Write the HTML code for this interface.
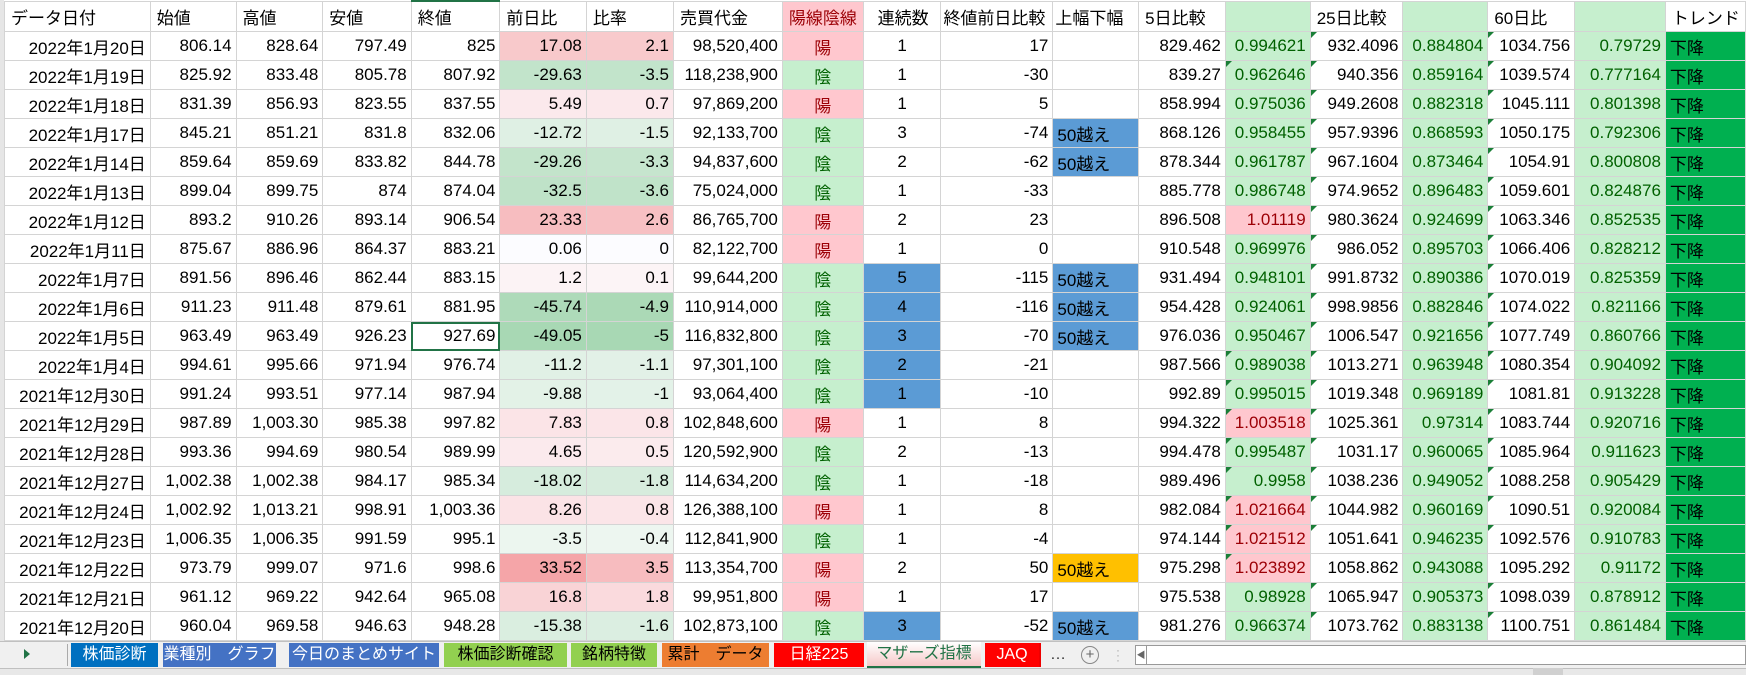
<!DOCTYPE html>
<html><head><meta charset="utf-8">
<style>
html,body{margin:0;padding:0;width:1746px;height:675px;overflow:hidden;background:#e8e8e8;font-family:"Liberation Sans","Noto Sans CJK JP",sans-serif;}
#gut{position:absolute;left:0;top:0;width:4px;height:641px;background:#e6e6e6;border-right:1px solid #c8c8c8;}
table{position:absolute;left:4px;top:0;border-collapse:collapse;table-layout:fixed;background:#fff;}
td{border:1px solid #d4d4d4;height:28px;padding:0 4px;font-size:17px;color:#000;white-space:nowrap;overflow:hidden;text-align:right;}
tr.h td{height:29px;text-align:left;padding-left:6px;}
td.c{text-align:center}
td.l{text-align:left}
.g{background:#c6efce;color:#006100}
.p{background:#ffc7ce;color:#9c0006}
.b{background:#5b9bd5}
.o{background:#ffc000}
.t{background:#00b050;text-align:left}
.tri{position:relative}
.tri:before{content:"";position:absolute;left:0;top:0;border-top:6px solid #1a7f37;border-right:6px solid transparent;}
.sel{outline:2px solid #217346;outline-offset:-2px}
#tabs{position:absolute;left:0;top:641px;width:1746px;height:26px;background:#f0f0f0;border-top:1px solid #c0c0c0;border-bottom:1px solid #c0c0c0;}
.tab{position:absolute;top:1px;height:24px;font-size:16px;line-height:24px;text-align:center;color:#fff;white-space:nowrap;}
</style></head><body>
<div id="gut"></div>
<table>
<colgroup>
<col style="width:146px"><col style="width:86px"><col style="width:87px"><col style="width:89px"><col style="width:89px"><col style="width:87px"><col style="width:88px"><col style="width:109px"><col style="width:81px"><col style="width:78px"><col style="width:112px"><col style="width:86px"><col style="width:87px"><col style="width:85px"><col style="width:93px"><col style="width:85px"><col style="width:87px"><col style="width:91px"><col style="width:80px">
</colgroup>
<tr class="h"><td>データ日付</td><td>始値</td><td>高値</td><td>安値</td><td style="border-top:2px solid #217346">終値</td><td>前日比</td><td>比率</td><td>売買代金</td><td class="p">陽線陰線</td><td style="text-align:center">連続数</td><td style="padding-left:2px">終値前日比較</td><td style="padding-left:2px">上幅下幅</td><td>5日比較</td><td class="g"></td><td>25日比較</td><td class="g"></td><td>60日比</td><td class="g"></td><td>トレンド</td></tr>
<tr><td>2022年1月20日</td><td>806.14</td><td>828.64</td><td>797.49</td><td>825</td><td style="background:#f8c9cb">17.08</td><td style="background:#f8cacc">2.1</td><td>98,520,400</td><td class="c p">陽</td><td class="c">1</td><td>17</td><td class="l"></td><td>829.462</td><td class="g">0.994621</td><td class="tri">932.4096</td><td class="g">0.884804</td><td class="tri">1034.756</td><td class="g">0.79729</td><td class="t">下降</td></tr>
<tr><td>2022年1月19日</td><td>825.92</td><td>833.48</td><td>805.78</td><td>807.92</td><td style="background:#c2e4cb">-29.63</td><td style="background:#c2e4cb">-3.5</td><td>118,238,900</td><td class="c g">陰</td><td class="c">1</td><td>-30</td><td class="l"></td><td>839.27</td><td class="g tri">0.962646</td><td class="tri">940.356</td><td class="g">0.859164</td><td class="tri">1039.574</td><td class="g">0.777164</td><td class="t">下降</td></tr>
<tr><td>2022年1月18日</td><td>831.39</td><td>856.93</td><td>823.55</td><td>837.55</td><td style="background:#fbe9ec">5.49</td><td style="background:#fbe8eb">0.7</td><td>97,869,200</td><td class="c p">陽</td><td class="c">1</td><td>5</td><td class="l"></td><td>858.994</td><td class="g">0.975036</td><td class="tri">949.2608</td><td class="g">0.882318</td><td class="tri">1045.111</td><td class="g">0.801398</td><td class="t">下降</td></tr>
<tr><td>2022年1月17日</td><td>845.21</td><td>851.21</td><td>831.8</td><td>832.06</td><td style="background:#dff0e4">-12.72</td><td style="background:#dff0e4">-1.5</td><td>92,133,700</td><td class="c g">陰</td><td class="c">3</td><td>-74</td><td class="l b">50越え</td><td>868.126</td><td class="g">0.958455</td><td class="tri">957.9396</td><td class="g">0.868593</td><td class="tri">1050.175</td><td class="g">0.792306</td><td class="t">下降</td></tr>
<tr><td>2022年1月14日</td><td>859.64</td><td>859.69</td><td>833.82</td><td>844.78</td><td style="background:#c3e4cb">-29.26</td><td style="background:#c6e5ce">-3.3</td><td>94,837,600</td><td class="c g">陰</td><td class="c">2</td><td>-62</td><td class="l b">50越え</td><td>878.344</td><td class="g">0.961787</td><td class="tri">967.1604</td><td class="g">0.873464</td><td class="tri">1054.91</td><td class="g">0.800808</td><td class="t">下降</td></tr>
<tr><td>2022年1月13日</td><td>899.04</td><td>899.75</td><td>874</td><td>874.04</td><td style="background:#bfe2c8">-32.5</td><td style="background:#c0e3c9">-3.6</td><td>75,024,000</td><td class="c g">陰</td><td class="c">1</td><td>-33</td><td class="l"></td><td>885.778</td><td class="g">0.986748</td><td class="tri">974.9652</td><td class="g">0.896483</td><td class="tri">1059.601</td><td class="g">0.824876</td><td class="t">下降</td></tr>
<tr><td>2022年1月12日</td><td>893.2</td><td>910.26</td><td>893.14</td><td>906.54</td><td style="background:#f7bdc0">23.33</td><td style="background:#f7c0c3">2.6</td><td>86,765,700</td><td class="c p">陽</td><td class="c">2</td><td>23</td><td class="l"></td><td>896.508</td><td class="p">1.01119</td><td class="tri">980.3624</td><td class="g">0.924699</td><td class="tri">1063.346</td><td class="g">0.852535</td><td class="t">下降</td></tr>
<tr><td>2022年1月11日</td><td>875.67</td><td>886.96</td><td>864.37</td><td>883.21</td><td style="background:#fcfcff">0.06</td><td style="background:#fcfcff">0</td><td>82,122,700</td><td class="c p">陽</td><td class="c">1</td><td>0</td><td class="l"></td><td>910.548</td><td class="g">0.969976</td><td class="tri">986.052</td><td class="g">0.895703</td><td class="tri">1066.406</td><td class="g">0.828212</td><td class="t">下降</td></tr>
<tr><td>2022年1月7日</td><td>891.56</td><td>896.46</td><td>862.44</td><td>883.15</td><td style="background:#fcf3f5">1.2</td><td style="background:#fcf4f6">0.1</td><td>99,644,200</td><td class="c g">陰</td><td class="c b">5</td><td>-115</td><td class="l b">50越え</td><td>931.494</td><td class="g">0.948101</td><td class="tri">991.8732</td><td class="g">0.890386</td><td class="tri">1070.019</td><td class="g">0.825359</td><td class="t">下降</td></tr>
<tr><td>2022年1月6日</td><td>911.23</td><td>911.48</td><td>879.61</td><td>881.95</td><td style="background:#aedab9">-45.74</td><td style="background:#abd9b6">-4.9</td><td>110,914,000</td><td class="c g">陰</td><td class="c b">4</td><td>-116</td><td class="l b">50越え</td><td>954.428</td><td class="g">0.924061</td><td class="tri">998.9856</td><td class="g">0.882846</td><td class="tri">1074.022</td><td class="g">0.821166</td><td class="t">下降</td></tr>
<tr><td>2022年1月5日</td><td>963.49</td><td>963.49</td><td>926.23</td><td class="sel">927.69</td><td style="background:#a8d8b4">-49.05</td><td style="background:#a8d8b4">-5</td><td>116,832,800</td><td class="c g">陰</td><td class="c b">3</td><td>-70</td><td class="l b">50越え</td><td>976.036</td><td class="g">0.950467</td><td class="tri">1006.547</td><td class="g">0.921656</td><td class="tri">1077.749</td><td class="g">0.860766</td><td class="t">下降</td></tr>
<tr><td>2022年1月4日</td><td>994.61</td><td>995.66</td><td>971.94</td><td>976.74</td><td style="background:#e1f1e6">-11.2</td><td style="background:#e2f1e7">-1.1</td><td>97,301,100</td><td class="c g">陰</td><td class="c b">2</td><td>-21</td><td class="l"></td><td>987.566</td><td class="g tri">0.989038</td><td class="tri">1013.271</td><td class="g">0.963948</td><td class="tri">1080.354</td><td class="g">0.904092</td><td class="t">下降</td></tr>
<tr><td>2021年12月30日</td><td>991.24</td><td>993.51</td><td>977.14</td><td>987.94</td><td style="background:#e3f2e7">-9.88</td><td style="background:#e3f2e8">-1</td><td>93,064,400</td><td class="c g">陰</td><td class="c b">1</td><td>-10</td><td class="l"></td><td>992.89</td><td class="g tri">0.995015</td><td class="tri">1019.348</td><td class="g">0.969189</td><td class="tri">1081.81</td><td class="g">0.913228</td><td class="t">下降</td></tr>
<tr><td>2021年12月29日</td><td>987.89</td><td>1,003.30</td><td>985.38</td><td>997.82</td><td style="background:#fbe4e7">7.83</td><td style="background:#fbe5e8">0.8</td><td>102,848,600</td><td class="c p">陽</td><td class="c">1</td><td>8</td><td class="l"></td><td>994.322</td><td class="p tri">1.003518</td><td class="tri">1025.361</td><td class="g">0.97314</td><td class="tri">1083.744</td><td class="g">0.920716</td><td class="t">下降</td></tr>
<tr><td>2021年12月28日</td><td>993.36</td><td>994.69</td><td>980.54</td><td>989.99</td><td style="background:#fbeaed">4.65</td><td style="background:#fbebed">0.5</td><td>120,592,900</td><td class="c g">陰</td><td class="c">2</td><td>-13</td><td class="l"></td><td>994.478</td><td class="g tri">0.995487</td><td class="tri">1031.17</td><td class="g">0.960065</td><td class="tri">1085.964</td><td class="g">0.911623</td><td class="t">下降</td></tr>
<tr><td>2021年12月27日</td><td>1,002.38</td><td>1,002.38</td><td>984.17</td><td>985.34</td><td style="background:#d6ecdd">-18.02</td><td style="background:#d7ecdd">-1.8</td><td>114,634,200</td><td class="c g">陰</td><td class="c">1</td><td>-18</td><td class="l"></td><td>989.496</td><td class="g tri">0.9958</td><td class="tri">1038.236</td><td class="g">0.949052</td><td class="tri">1088.258</td><td class="g">0.905429</td><td class="t">下降</td></tr>
<tr><td>2021年12月24日</td><td>1,002.92</td><td>1,013.21</td><td>998.91</td><td>1,003.36</td><td style="background:#fbe3e6">8.26</td><td style="background:#fbe5e8">0.8</td><td>126,388,100</td><td class="c p">陽</td><td class="c">1</td><td>8</td><td class="l"></td><td>982.084</td><td class="p tri">1.021664</td><td class="tri">1044.982</td><td class="g">0.960169</td><td class="tri">1090.51</td><td class="g">0.920084</td><td class="t">下降</td></tr>
<tr><td>2021年12月23日</td><td>1,006.35</td><td>1,006.35</td><td>991.59</td><td>995.1</td><td style="background:#ecf6ef">-3.5</td><td style="background:#edf6f0">-0.4</td><td>112,841,900</td><td class="c g">陰</td><td class="c">1</td><td>-4</td><td class="l"></td><td>974.144</td><td class="p tri">1.021512</td><td class="tri">1051.641</td><td class="g">0.946235</td><td class="tri">1092.576</td><td class="g">0.910783</td><td class="t">下降</td></tr>
<tr><td>2021年12月22日</td><td>973.79</td><td>999.07</td><td>971.6</td><td>998.6</td><td style="background:#f5a5a8">33.52</td><td style="background:#f7bcbf">3.5</td><td>113,354,700</td><td class="c p">陽</td><td class="c">2</td><td>50</td><td class="l o">50越え</td><td>975.298</td><td class="p tri">1.023892</td><td>1058.862</td><td class="g">0.943088</td><td>1095.292</td><td class="g">0.91172</td><td class="t">下降</td></tr>
<tr><td>2021年12月21日</td><td>961.12</td><td>969.22</td><td>942.64</td><td>965.08</td><td style="background:#f9d3d6">16.8</td><td style="background:#fadadd">1.8</td><td>99,951,800</td><td class="c p">陽</td><td class="c">1</td><td>17</td><td class="l"></td><td>975.538</td><td class="g">0.98928</td><td class="tri">1065.947</td><td class="g">0.905373</td><td class="tri">1098.039</td><td class="g">0.878912</td><td class="t">下降</td></tr>
<tr><td>2021年12月20日</td><td>960.04</td><td>969.58</td><td>946.63</td><td>948.28</td><td style="background:#daeee0">-15.38</td><td style="background:#dbeee1">-1.6</td><td>102,873,100</td><td class="c g">陰</td><td class="c b">3</td><td>-52</td><td class="l b">50越え</td><td>981.276</td><td class="g">0.966374</td><td class="tri">1073.762</td><td class="g">0.883138</td><td class="tri">1100.751</td><td class="g">0.861484</td><td class="t">下降</td></tr>
</table>
<div id="tabs">
<div style="position:absolute;left:24px;top:7px;border-left:6px solid #217346;border-top:5px solid transparent;border-bottom:5px solid transparent;"></div>
<div style="position:absolute;left:67px;top:2px;width:1px;height:22px;background:#aaa"></div>
<div class="tab" style="left:71px;width:87px;background:#0070c0">株価診断</div>
<div class="tab" style="left:163px;width:113px;background:#4472c4">業種別　グラフ</div>
<div class="tab" style="left:289px;width:150px;background:#4472c4">今日のまとめサイト</div>
<div class="tab" style="left:444px;width:123px;background:#92d050;color:#000">株価診断確認</div>
<div class="tab" style="left:571px;width:86px;background:#92d050;color:#000">銘柄特徴</div>
<div class="tab" style="left:662px;width:107px;background:#ed7d31;color:#000">累計　データ</div>
<div class="tab" style="left:774px;width:90px;background:#ff0000">日経225</div>
<div class="tab" style="left:867px;width:114px;top:0;height:24px;background:linear-gradient(#fff,#f6c8c8);color:#217346;border-bottom:2px solid #217346">マザーズ指標</div>
<div class="tab" style="left:985px;width:54px;background:#ff0000;border-right:2px solid #e00">JAQ</div>
<div style="position:absolute;left:1050px;top:1px;font-size:16px;line-height:24px;color:#333">…</div>
<div style="position:absolute;left:1081px;top:4px;width:16px;height:16px;border:1px solid #888;border-radius:50%;text-align:center;line-height:16px;font-size:15px;color:#666">+</div>
<div style="position:absolute;left:1116px;top:6px;font-size:12px;color:#aaa;line-height:5px">·<br>·<br>·</div>
<div style="position:absolute;left:1135px;top:3px;width:609px;height:18px;border:1px solid #999;background:#fff"></div>
<div style="position:absolute;left:1136px;top:4px;width:10px;height:18px;border-right:1px solid #999;font-size:9px;line-height:18px;color:#666;text-align:center">◀</div>
</div>
<div style="position:absolute;left:1533px;top:668px;width:30px;height:7px;background:#d0d0d0"></div>
</body></html>
